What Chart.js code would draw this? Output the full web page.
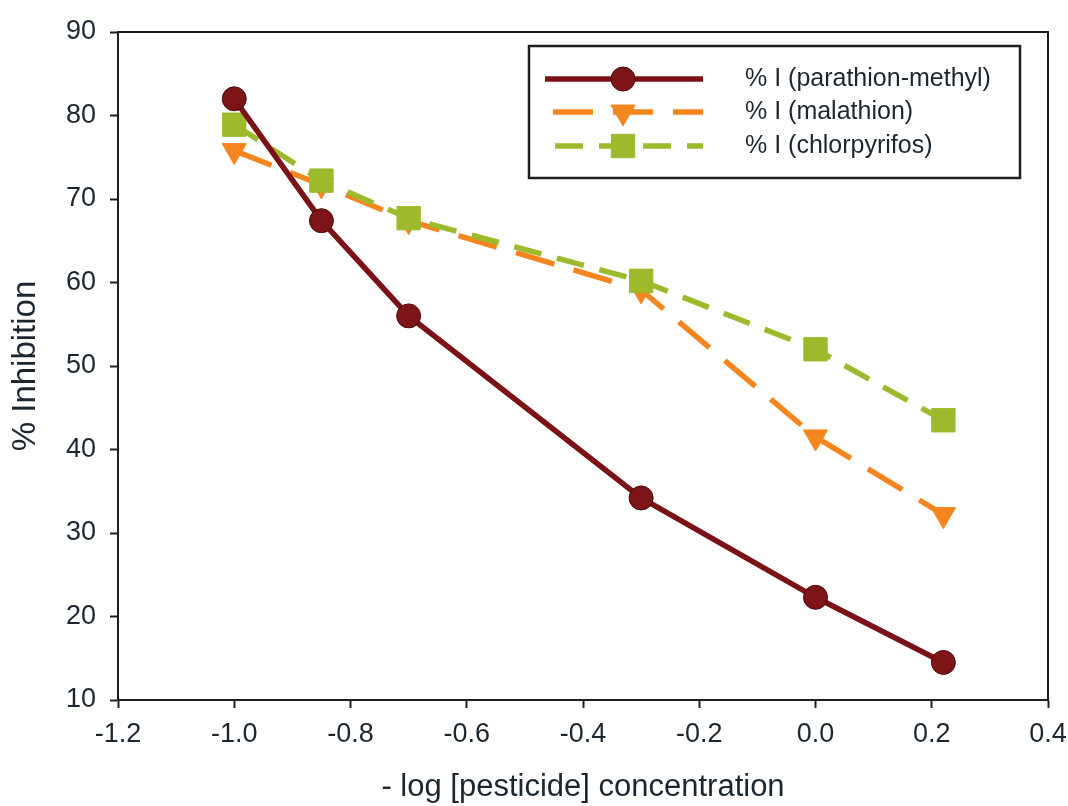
<!DOCTYPE html>
<html>
<head>
<meta charset="utf-8">
<script src="https://cdn.jsdelivr.net/npm/chart.js@4.4.0/dist/chart.umd.min.js"></script>
<style>
  html, body { margin: 0; padding: 0; background: #fff; }
  #wrap { width: 1068px; height: 806px; }
</style>
</head>
<body>
<div id="wrap"><canvas id="chart" width="1068" height="806"></canvas></div>
<script>
// data
const xValues = [-1.0, -0.85, -0.7, -0.3, 0.0, 0.22];
const parathion = [82.0, 67.4, 56.0, 34.2, 22.3, 14.5];
const malathion = [75.8, 71.7, 67.4, 59.1, 41.5, 32.2];
const chlorpyrifos = [78.9, 72.2, 67.7, 60.2, 52.0, 43.5];
const seriesLabels = ['% I (parathion-methyl)', '% I (malathion)', '% I (chlorpyrifos)'];
const xTitle = '- log [pesticide] concentration';
const yTitle = '% Inhibition';

const FONT = '"Liberation Sans", Arial, sans-serif';
const AXIS = '#1e1e1e';
const TEXT = '#1c2630';

function toPoints(ys) {
    return xValues.map((x, i) => ({ x: x, y: ys[i] }));
}

// box around the plot + custom legend with long line samples
const framePlugin = {
    id: 'frame',
    afterDatasetsDraw(chart) {
        const { ctx, chartArea: a } = chart;
        ctx.save();
        ctx.strokeStyle = AXIS;
        ctx.lineWidth = 2;
        ctx.strokeRect(a.left, a.top, a.right - a.left, a.bottom - a.top);

        // legend box
        const bx = 529, by = 46, bw = 491, bh = 132;
        ctx.fillStyle = '#fff';
        ctx.fillRect(bx, by, bw, bh);
        ctx.lineWidth = 2.5;
        ctx.strokeRect(bx, by, bw, bh);

        const rows = [79, 112, 146];
        chart.data.datasets.forEach((ds, i) => {
            const y = rows[i];
            ctx.save();
            ctx.strokeStyle = ds.borderColor;
            ctx.lineWidth = ds.borderWidth;
            ctx.setLineDash(ds.borderDash || []);
            ctx.lineDashOffset = ds.legendDashOffset || 0;
            ctx.beginPath();
            ctx.moveTo(545, y);
            ctx.lineTo(703, y);
            ctx.stroke();
            ctx.setLineDash([]);
            ctx.fillStyle = ds.pointBackgroundColor;
            ctx.strokeStyle = ds.pointBorderColor;
            ctx.lineWidth = 1;
            Chart.helpers.drawPoint(ctx, {
                pointStyle: ds.pointStyle,
                rotation: ds.pointRotation || 0,
                radius: ds.pointRadius,
                borderWidth: 1
            }, 623, y);
            ctx.restore();

            ctx.fillStyle = TEXT;
            ctx.font = '25px ' + FONT;
            ctx.textBaseline = 'middle';
            ctx.textAlign = 'left';
            ctx.fillText(ds.label, 745, y);
        });
        ctx.restore();
    }
};

const ctx = document.getElementById('chart').getContext('2d');
new Chart(ctx, {
    type: 'line',
    data: {
        datasets: [
            {
                label: seriesLabels[0],
                data: toPoints(parathion),
                borderColor: '#7a1216',
                backgroundColor: '#7a1216',
                borderWidth: 5.5,
                pointStyle: 'circle',
                pointRadius: 12,
                pointBackgroundColor: '#7d1418',
                pointBorderColor: '#4a0a0c',
                pointBorderWidth: 1,
                order: 0
            },
            {
                label: seriesLabels[1],
                data: toPoints(malathion),
                borderColor: '#f5861f',
                backgroundColor: '#f5861f',
                borderWidth: 5.5,
                borderDash: [40, 20],
                legendDashOffset: -8,
                pointStyle: 'triangle',
                pointRotation: 180,
                pointRadius: 14,
                pointBackgroundColor: '#f5861f',
                pointBorderColor: '#f5861f',
                pointBorderWidth: 1,
                order: 2
            },
            {
                label: seriesLabels[2],
                data: toPoints(chlorpyrifos),
                borderColor: '#9cba2c',
                backgroundColor: '#9cba2c',
                borderWidth: 5.5,
                borderDash: [28, 16],
                legendDashOffset: -10,
                pointStyle: 'rect',
                pointRadius: 16.5,
                pointBackgroundColor: '#9cba2c',
                pointBorderColor: '#9cba2c',
                pointBorderWidth: 1,
                order: 1
            }
        ]
    },
    options: {
        responsive: false,
        animation: false,
        layout: { padding: { left: 6, right: 20, top: 32, bottom: 0 } },
        plugins: {
            legend: { display: false },
            tooltip: { enabled: false }
        },
        scales: {
            x: {
                type: 'linear',
                min: -1.2,
                max: 0.4,
                afterFit: s => { s.height = 106; s.paddingRight = 0; s.paddingLeft = 0; },
                ticks: {
                    stepSize: 0.2,
                    color: TEXT,
                    padding: 10,
                    maxRotation: 0,
                    font: { family: FONT, size: 27 },
                    callback: v => v.toFixed(1)
                },
                grid: {
                    drawOnChartArea: false,
                    drawTicks: true,
                    tickLength: 8,
                    tickWidth: 2,
                    tickColor: AXIS
                },
                border: { display: true, color: AXIS, width: 2 },
                title: {
                    display: true,
                    text: xTitle,
                    color: TEXT,
                    font: { family: FONT, size: 31 },
                    padding: 0
                }
            },
            y: {
                min: 10,
                max: 90,
                afterFit: s => { s.width = 112; },
                ticks: {
                    stepSize: 10,
                    color: TEXT,
                    padding: 14,
                    font: { family: FONT, size: 27 }
                },
                grid: {
                    drawOnChartArea: false,
                    drawTicks: true,
                    tickLength: 8,
                    tickWidth: 2,
                    tickColor: AXIS
                },
                border: { display: true, color: AXIS, width: 2 },
                title: {
                    display: true,
                    text: yTitle,
                    color: TEXT,
                    font: { family: FONT, size: 33 },
                    padding: 0
                }
            }
        }
    },
    plugins: [framePlugin]
});
</script>
</body>
</html>
